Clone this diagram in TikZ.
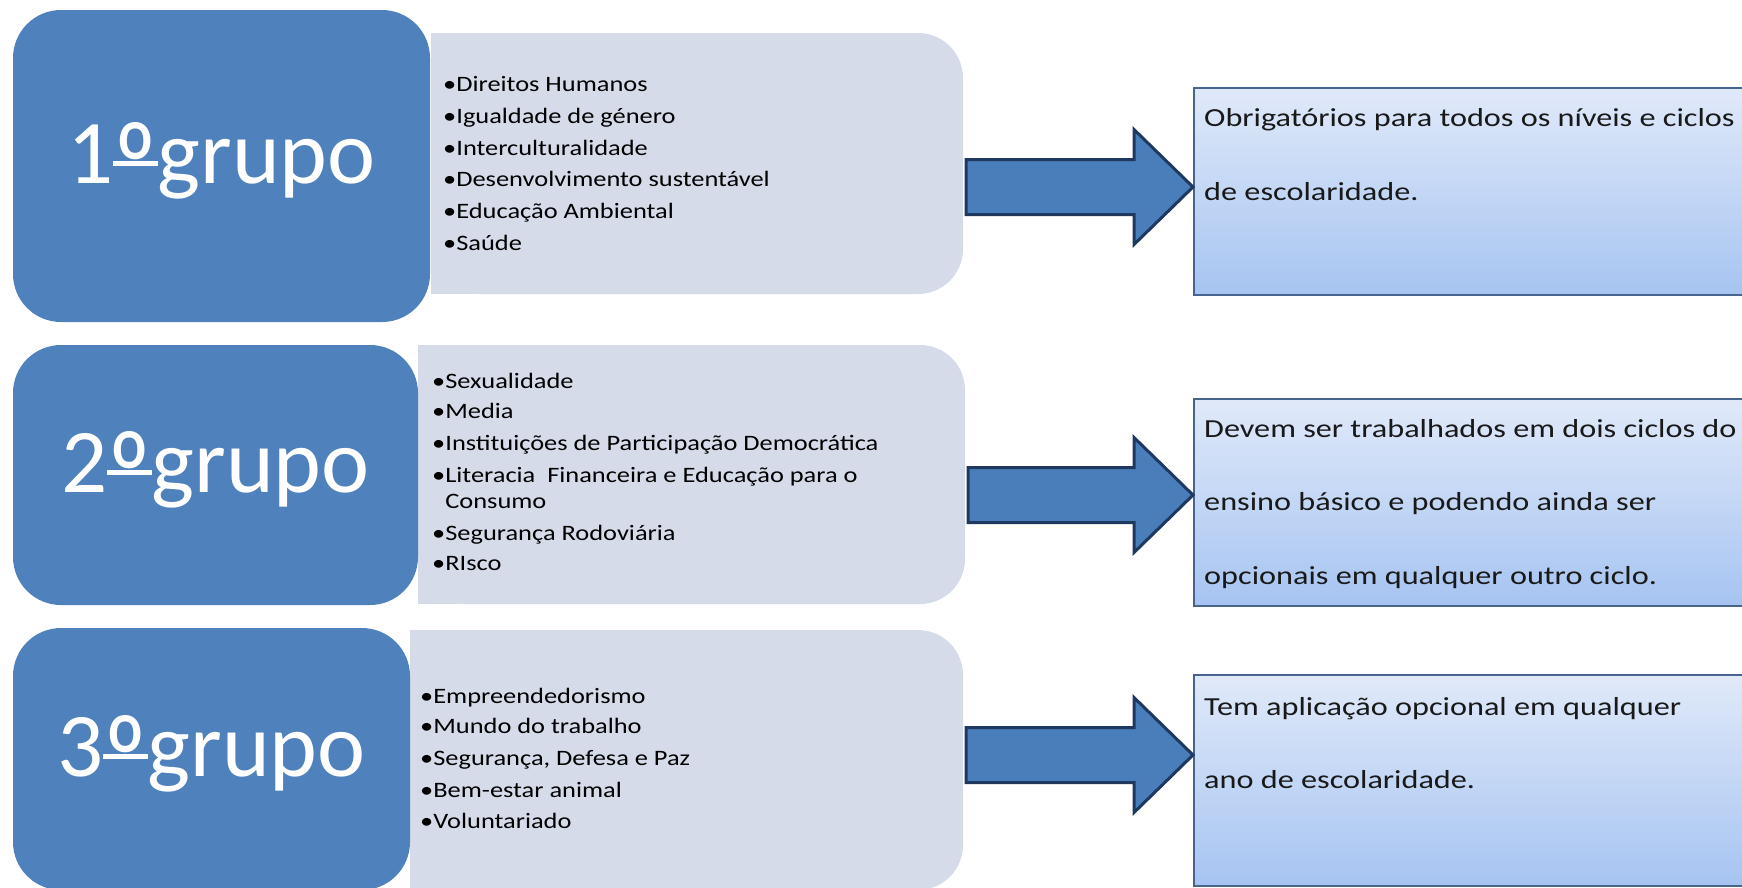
\documentclass[tikz,border=0pt]{standalone}
\usepackage{fontspec}
\setmainfont{Carlito}
\newfontfamily\itemfont{Carlito}[FakeStretch=1.2]
\newfontfamily\notefont{Carlito}[FakeStretch=1.24]
\usetikzlibrary{calc,positioning}

\definecolor{grupoblue}{RGB}{79,129,189}
\definecolor{listgrey}{RGB}{213,219,232}
\definecolor{setablue}{RGB}{74,126,187}
\definecolor{setaborder}{RGB}{31,56,96}
\definecolor{notatop}{RGB}{224,233,249}
\definecolor{notabottom}{RGB}{166,196,241}
\definecolor{notaborder}{RGB}{72,100,140}

% ordinal sign with its bar
\newsavebox\ordbox
\newcommand{\ordbar}{\sbox\ordbox{\raisebox{-0.29em}{\scalebox{1.15}[1.4]{º}}}%
  \rlap{\rule[0.19em]{\wd\ordbox}{0.055em}}\usebox\ordbox}

\tikzset{
  grupo/.style={fill=grupoblue, rounded corners=48, text=white, inner sep=0,
    font=\fontsize{91}{100}\selectfont},
  lista/.style={fill=listgrey, rounded corners=45, inner sep=0},
  item/.style={anchor=base west, inner sep=0, font=\itemfont\fontsize{22}{26}\selectfont},
  nota/.style={draw=notaborder, line width=1.5, top color=notatop, bottom color=notabottom,
    inner sep=0, anchor=north west},
  notatxt/.style={anchor=base west, inner sep=0, text=black!90,
    font=\notefont\fontsize{26}{30}\selectfont},
  setashape/.style={fill=setablue, draw=setaborder, line width=3},
}

% block arrow from the list box to the note box, at height #3
\newcommand{\blocoseta}[3]{%
  \path (#1.east |- 0,#3) coordinate (sA) (#2.west |- 0,#3) coordinate (sB);
  \draw[setashape] ($(sA)+(3,-27.5)$) -- ($(sB)+(-59,-27.5)$) -- ($(sB)+(-59,-57.5)$)
    -- (sB) -- ($(sB)+(-59,57.5)$) -- ($(sB)+(-59,27.5)$) -- ($(sA)+(3,27.5)$) -- cycle;
}

\begin{document}
\begin{tikzpicture}[x=1pt,y=-1pt]
\useasboundingbox (0,0) rectangle (1742,887);

% grey lists
\node[lista, minimum width=532, minimum height=261] (g1) at (697,163.5) {};
\node[lista, minimum width=547, minimum height=259] (g2) at (691.5,474.5) {};
\node[lista, minimum width=553, minimum height=260] (g3) at (686.5,760) {};
\foreach \g in {g1,g2,g3}
  \fill[listgrey] (\g.north west) rectangle ($(\g.south west)+(60,0)$);

% group boxes
\node[grupo, minimum width=417, minimum height=312] (b1) at (221.5,166) {1\ordbar grupo};
\node[grupo, minimum width=405, minimum height=260] (b2) at (215.5,475) {2\ordbar grupo};
\node[grupo, minimum width=397, minimum height=262] (b3) at (211.5,759) {3\ordbar grupo};

% items
\foreach \y/\txt [count=\i] in {91/Direitos Humanos, 123/Igualdade de género,
    155/Interculturalidade, 186/Desenvolvimento sustentável,
    218/Educação Ambiental, 250/Saúde}
  \node[item] (pa\i) at (443,\y) {•\txt};
\foreach \y/\txt [count=\i] in {388/Sexualidade, 418/Media,
    450/Instituições de Participação Democrática,
    482/Literacia~ Financeira e Educação para o,
    540/Segurança Rodoviária, 570/RIsco}
  \node[item] (pb\i) at (432,\y) {•\txt};
\node[item] (pb0) at (432,508) {\phantom{•}Consumo};
\foreach \y/\txt [count=\i] in {703/Empreendedorismo, 733/Mundo do trabalho,
    765/{Segurança, Defesa e Paz}, 797/Bem-estar animal, 828/Voluntariado}
  \node[item] (pc\i) at (420,\y) {•\txt};

% notes
\node[nota, minimum width=567, minimum height=207] (r1) at (1193,87) {};
\node[nota, minimum width=567, minimum height=207] (r2) at (1193,398) {};
\node[nota, minimum width=567, minimum height=211] (r3) at (1193,674) {};

\node[notatxt] (t1) at (1204,126) {Obrigatórios para todos os níveis e ciclos};
\node[notatxt] (t2) at (1204,200) {de escolaridade.};
\node[notatxt] (t3) at (1204,437) {Devem ser trabalhados em dois ciclos do};
\node[notatxt] (t4) at (1204,510) {ensino básico e podendo ainda ser};
\node[notatxt] (t5) at (1204,584) {opcionais em qualquer outro ciclo.};
\node[notatxt] (t6) at (1204,715) {Tem aplicação opcional em qualquer};
\node[notatxt] (t7) at (1204,788) {ano de escolaridade.};

% arrows
\blocoseta{g1}{r1}{187}
\blocoseta{g2}{r2}{495}
\blocoseta{g3}{r3}{755}
\end{tikzpicture}
\end{document}
